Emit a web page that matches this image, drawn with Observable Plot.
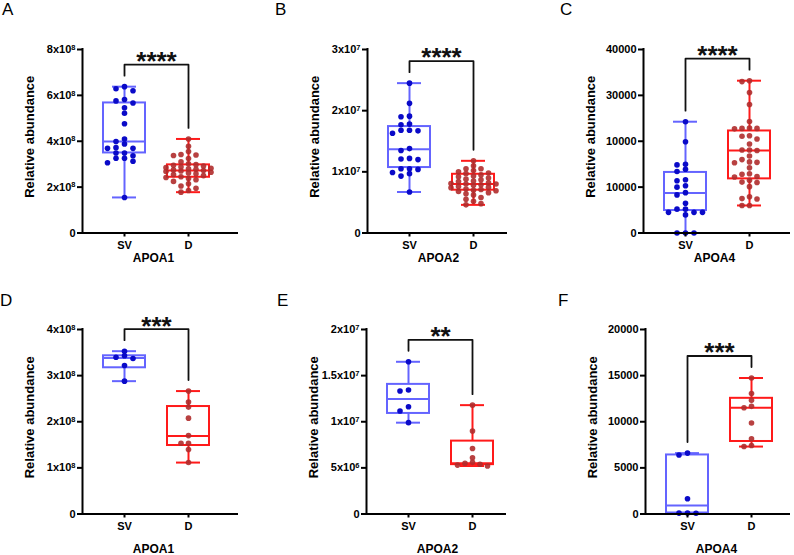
<!DOCTYPE html>
<html>
<head>
<meta charset="utf-8">
<script src="https://cdn.jsdelivr.net/npm/d3@7"></script>
<script src="https://cdn.jsdelivr.net/npm/@observablehq/plot@0.6"></script>
<style>
  html, body { margin: 0; padding: 0; background: #fff; overflow: hidden; }
  #figure { position: relative; width: 794px; height: 555px; font-family: "Liberation Sans", Arial, sans-serif; }
  .panel { position: absolute; }
  .letter { position: absolute; font-size: 17px; line-height: 17px; color: #000; }
</style>
</head>
<body>
<div id="figure"></div>
<script>
// ---- data ----------------------------------------------------------------
const groups = ["SV", "D"];
const panelLetters = ["A", "B", "C", "D", "E", "F"];
const proteins = ["APOA1", "APOA2", "APOA4", "APOA1", "APOA2", "APOA4"];
const yTitle = "Relative abundance";
const significance = ["****", "****", "****", "***", "**", "***"];
const yMax = [8e8, 3e7, 40000, 4e8, 2e7, 20000];
const yTicks = [
  [0, 2e8, 4e8, 6e8, 8e8],
  [0, 1e7, 2e7, 3e7],
  [0, 10000, 20000, 30000, 40000],
  [0, 1e8, 2e8, 3e8, 4e8],
  [0, 5e6, 1e7, 1.5e7, 2e7],
  [0, 5000, 10000, 15000, 20000]
];
const yTickLabels = [
  ["0", "2x10^8", "4x10^8", "6x10^8", "8x10^8"],
  ["0", "1x10^7", "2x10^7", "3x10^7"],
  ["0", "10000", "10000", "30000", "40000"],
  ["0", "1x10^8", "2x10^8", "3x10^8", "4x10^8"],
  ["0", "5x10^6", "1x10^7", "1.5x10^7", "2x10^7"],
  ["0", "5000", "10000", "15000", "20000"]
];

// individual samples, SV group
const svValues = [
  [6.38e8, 6.29e8, 6.20e8, 5.82e8, 5.76e8, 5.67e8, 5.46e8, 5.22e8, 4.76e8, 4.10e8, 3.99e8, 3.88e8,
   3.72e8, 3.69e8, 3.69e8, 3.49e8, 3.49e8, 3.37e8, 3.26e8, 3.26e8, 3.13e8, 3.06e8, 1.55e8],
  [2.45e7, 2.12e7, 1.91e7, 1.90e7, 1.78e7, 1.77e7, 1.68e7, 1.68e7, 1.67e7, 1.63e7, 1.38e7, 1.35e7,
   1.22e7, 1.21e7, 1.20e7, 1.05e7, 1.05e7, 1.04e7, 0.99e7, 0.97e7, 0.93e7, 0.67e7],
  [24260, 19900, 15000, 14850, 13900, 13400, 11600, 11400, 10300, 10000, 8800, 8300,
   6500, 5200, 5200, 4500, 4500, 4500, 3950, 0, 0, 0],
  [3.53e8, 3.43e8, 3.40e8, 3.37e8, 3.22e8, 2.88e8],
  [1.65e7, 1.344e7, 1.333e7, 1.163e7, 1.117e7, 0.99e7],
  [6600, 6400, 1650, 110, 100, 80]
];

// individual samples, D group
const dValues = [
  [4.10e8, 3.78e8, 3.55e8, 3.42e8, 3.40e8, 3.38e8, 3.25e8, 3.10e8, 3.02e8, 2.98e8, 2.95e8, 2.92e8,
   2.88e8, 2.85e8, 2.82e8, 2.80e8, 2.78e8, 2.75e8, 2.72e8, 2.70e8, 2.68e8, 2.65e8, 2.62e8, 2.58e8,
   2.55e8, 2.50e8, 2.45e8, 2.42e8, 2.38e8, 2.32e8, 2.25e8, 2.15e8, 2.05e8, 1.95e8, 1.85e8, 1.78e8],
  [1.18e7, 1.10e7, 1.05e7, 1.05e7, 1.02e7, 1.00e7, 0.98e7, 0.97e7, 0.95e7, 0.93e7, 0.92e7, 0.90e7,
   0.88e7, 0.87e7, 0.85e7, 0.84e7, 0.82e7, 0.81e7, 0.80e7, 0.80e7, 0.79e7, 0.78e7, 0.76e7, 0.75e7,
   0.74e7, 0.72e7, 0.71e7, 0.70e7, 0.69e7, 0.68e7, 0.66e7, 0.64e7, 0.62e7, 0.58e7, 0.55e7, 0.52e7,
   0.48e7, 0.46e7],
  [33200, 33000, 30600, 28000, 24300, 22900, 22800, 22800, 22700, 21200, 21100, 20500, 19400,
   18100, 18100, 18000, 16800, 16000, 15500, 15400, 15300, 14200, 12900, 12800, 12300, 12200,
   11500, 11100, 11000, 10100, 7900, 7500, 7400, 6000, 6000],
  [2.665e8, 2.427e8, 2.318e8, 2.078e8, 1.70e8, 1.535e8, 1.535e8, 1.398e8, 1.115e8],
  [1.18e7, 0.90e7, 0.71e7, 0.61e7, 0.56e7, 0.55e7, 0.54e7, 0.53e7, 0.52e7],
  [14740, 13050, 12320, 11670, 11510, 9870, 8160, 7420, 7310]
];

// box summaries: [min, Q1, median, Q3, max]
const boxSV = [
  [1.55e8, 3.49e8, 3.99e8, 5.67e8, 6.38e8],
  [0.67e7, 1.07e7, 1.37e7, 1.74e7, 2.45e7],
  [0, 4900, 8700, 13200, 24260],
  [2.88e8, 3.17e8, 3.38e8, 3.43e8, 3.53e8],
  [0.99e7, 1.09e7, 1.246e7, 1.405e7, 1.65e7],
  [80, 110, 920, 6400, 6600]
];
const boxD = [
  [1.78e8, 2.43e8, 2.72e8, 2.97e8, 4.10e8],
  [0.46e7, 0.70e7, 0.80e7, 0.96e7, 1.18e7],
  [6000, 11800, 18000, 22240, 33200],
  [1.115e8, 1.485e8, 1.69e8, 2.33e8, 2.665e8],
  [0.52e7, 0.535e7, 0.55e7, 0.79e7, 1.18e7],
  [7310, 7860, 11510, 12540, 14740]
];

// ---- styling / layout -----------------------------------------------------
const boxColors = ["#6464ff", "#ff1a1a"];
const dotColors = ["#0a0ac8", "#b02c2c"];
const marginLeft = [82, 102, 113, 82, 101, 115];
const frameWidth = [155, 139, 146, 155, 139, 144];
const letterPos = [[2, 1], [275, 1], [560, 1], [0, 292], [277, 292], [558, 292]];
const SVGNS = "http://www.w3.org/2000/svg";

// simple column beeswarm: each point takes the first free column nearest the centre
function swarm(values, pxPerY, colGap = 8, minGap = 4.6, maxCol = 3) {
  const order = [0];
  for (let c = 1; c <= maxCol; c++) order.push(-c, c);
  const placed = [];
  [...values].sort((a, b) => b - a).forEach(v => {
    const yp = v * pxPerY;
    let chosen = null, fallback = 0, fallbackDist = -1;
    for (const c of order) {
      const same = placed.filter(p => p.c === c);
      const d = same.length ? d3.min(same, p => Math.abs(p.yp - yp)) : Infinity;
      if (d >= minGap) { chosen = c; break; }
      if (d > fallbackDist) { fallbackDist = d; fallback = c; }
    }
    placed.push({v, yp, c: chosen === null ? fallback : chosen});
  });
  return placed.map(p => ({v: p.v, offset: p.c * colGap}));
}

// turn "2x10^8" tick labels into a base with a raised exponent
function superscripts(svg) {
  svg.querySelectorAll('[aria-label="y-axis tick label"] text').forEach(t => {
    const s = t.textContent;
    const i = s.indexOf("^");
    if (i < 0) return;
    t.textContent = s.slice(0, i);
    const ts = document.createElementNS(SVGNS, "tspan");
    ts.setAttribute("dy", "-0.45em");
    ts.setAttribute("font-size", "0.68em");
    ts.textContent = s.slice(i + 1);
    t.appendChild(ts);
  });
}

// vertical axis title, rotated alongside the y axis
function addYTitle(svg, x, y) {
  const t = document.createElementNS(SVGNS, "text");
  t.setAttribute("transform", `translate(${x},${y}) rotate(-90)`);
  t.setAttribute("text-anchor", "middle");
  t.setAttribute("dy", "0.35em");
  t.setAttribute("font-size", "13");
  t.setAttribute("font-weight", "bold");
  t.setAttribute("fill", "#000");
  t.textContent = yTitle;
  svg.appendChild(t);
}

function drawPanel(k) {
  const row = Math.floor(k / 3), col = k % 3;
  const width = 264, height = row ? 275 : 280;
  const ml = marginLeft[k], fw = frameWidth[k];
  const mt = 49, zeroY = row ? 233.5 : 232.5;
  const mb = height - zeroY, mr = width - ml - fw;
  const innerH = zeroY - mt;
  const pxPerY = innerH / yMax[k];
  const xUnit = 64;                       // pixels between the two group centres
  const xDomain = [-42 / xUnit, (fw - 42) / xUnit];
  const px = p => p / xUnit;              // pixel width -> x units
  const py = p => p / pxPerY;             // pixel height -> y units

  const stats = [boxSV[k], boxD[k]];
  const marks = [];

  stats.forEach(([min, q1, med, q3, max], g) => {
    const box = [{g, min, q1, med, q3, max}];
    const stroke = boxColors[g];
    const sw = 2;
    marks.push(
      Plot.ruleX(box, {x: "g", y1: "min", y2: "q1", stroke, strokeWidth: sw}),
      Plot.ruleX(box, {x: "g", y1: "q3", y2: "max", stroke, strokeWidth: sw}),
      Plot.ruleY(box, {y: "min", x1: d => d.g - px(12), x2: d => d.g + px(12), stroke, strokeWidth: sw}),
      Plot.ruleY(box, {y: "max", x1: d => d.g - px(12), x2: d => d.g + px(12), stroke, strokeWidth: sw}),
      Plot.rect(box, {x1: d => d.g - px(21), x2: d => d.g + px(21), y1: "q1", y2: "q3", fill: "none", stroke, strokeWidth: sw}),
      Plot.ruleY(box, {y: "med", x1: d => d.g - px(21), x2: d => d.g + px(21), stroke, strokeWidth: sw})
    );
  });

  [svValues[k], dValues[k]].forEach((vals, g) => {
    const pts = swarm(vals, pxPerY, g ? 7.5 : 8.5).map(d => ({x: g + px(d.offset), y: d.v}));
    marks.push(Plot.dot(pts, {x: "x", y: "y", r: 2.8, fill: dotColors[g], fillOpacity: g ? 0.9 : 1, stroke: "none"}));
  });

  // significance bracket
  const legL = boxSV[k][4] + py(11);
  const legR = boxD[k][4] + py(11);
  const top = Math.max(legL, legR) + py(11);
  const bracket = [{x: 0, y: legL}, {x: 0, y: top}, {x: 1, y: top}, {x: 1, y: legR}];
  marks.push(
    Plot.line(bracket, {x: "x", y: "y", stroke: "#111", strokeWidth: 1.8}),
    Plot.text([significance[k]], {x: 0.5, y: top, dy: -3, fontSize: 26, fontWeight: "bold", fill: "#111"})
  );

  // axes
  const labelOf = new Map(yTicks[k].map((t, i) => [t, yTickLabels[k][i]]));
  marks.push(
    Plot.ruleX([xDomain[0]], {stroke: "#000", strokeWidth: 2, strokeLinecap: "square"}),
    Plot.ruleY([0], {stroke: "#000", strokeWidth: 2, strokeLinecap: "square"}),
    Plot.axisY({ticks: yTicks[k], tickFormat: d => labelOf.get(d), tickSize: 5, tickPadding: 2,
      strokeWidth: 2, fontSize: 11, fontWeight: "bold", label: null}),
    Plot.axisX({ticks: [0, 1], tickFormat: d => groups[d], tickSize: 4, tickPadding: 4,
      strokeWidth: 2, fontSize: 11, fontWeight: "bold", label: null}),
    Plot.text([proteins[k]], {x: 0.5 - px(3), y: 0, dy: row ? 35 : 25.5, fontSize: 12, fontWeight: "bold"})
  );

  const svg = Plot.plot({
    width, height,
    marginLeft: ml, marginRight: mr, marginTop: mt, marginBottom: mb,
    x: {type: "linear", domain: xDomain, label: null},
    y: {type: "linear", domain: [0, yMax[k]], label: null},
    style: {fontFamily: '"Liberation Sans", Arial, sans-serif', fontSize: "11px", color: "#000",
      background: "transparent", overflow: "visible"},
    marks
  });
  superscripts(svg);
  addYTitle(svg, ml - 53, (mt + zeroY) / 2 - 4);

  const holder = document.createElement("div");
  holder.className = "panel";
  holder.style.left = col * 265 + "px";
  holder.style.top = row * 280 + "px";
  holder.appendChild(svg);
  return holder;
}

const figure = document.getElementById("figure");
panelLetters.forEach((letter, k) => {
  figure.appendChild(drawPanel(k));
  const el = document.createElement("div");
  el.className = "letter";
  el.textContent = letter;
  el.style.left = letterPos[k][0] + "px";
  el.style.top = letterPos[k][1] + "px";
  figure.appendChild(el);
});
</script>
</body>
</html>
